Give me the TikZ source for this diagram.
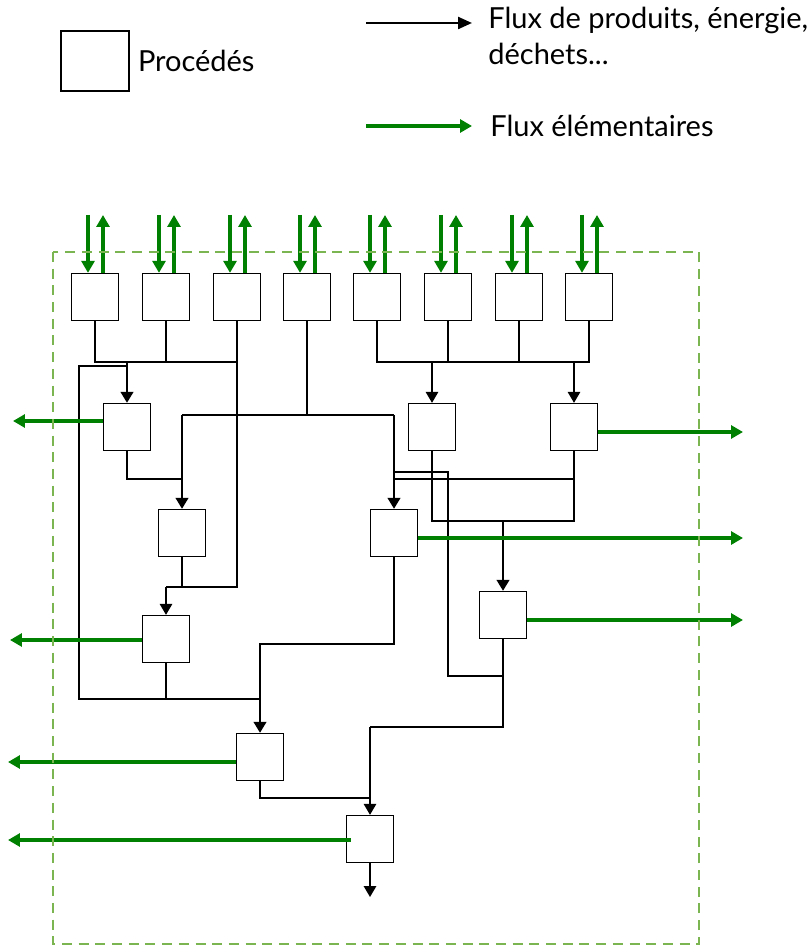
\documentclass[tikz,border=0pt]{standalone}
\usepackage{fontspec}
\setmainfont{Lato}
\usetikzlibrary{arrows.meta}
\definecolor{flowgreen}{RGB}{0,128,0}
\definecolor{limitgreen}{RGB}{122,181,82}

\begin{document}
\begin{tikzpicture}[x=0.02cm, y=-0.02cm, font=\fontsize{16.5}{20.5}\selectfont,
  >={Triangle[length=0.22cm, width=0.25cm]},
  proc/.style={draw, line width=0.75pt, minimum size=0.94cm, inner sep=0pt},
  flow/.style={line width=0.7pt},
  link/.style={line width=0.9pt, ->},
  main/.style={line width=1.4pt, ->},
  elem/.style={flowgreen, line width=2.3pt, -{Triangle[length=0.24cm, width=0.26cm]}}]
  \useasboundingbox (0,0) rectangle (811,945);
  % --- legend ---
  \node[proc, minimum width=1.36cm, minimum height=1.2cm] (legbox) at (95,61) {};
  \node[anchor=west, inner sep=0pt] (legproc) at ([xshift=0.16cm]legbox.east) {Procédés};
  \coordinate (legA) at (366,23);
  \coordinate (legB) at (472,23);
  \draw[line width=1.3pt, -{Triangle[length=0.28cm, width=0.24cm]}] (legA) -- (legB);
  \node[anchor=north west, inner sep=0pt, align=left] (legflux) at (488,7)
       {Flux de produits, énergie,\\déchets...};
  \coordinate (legC) at (366,126);
  \coordinate (legD) at (472,126);
  \draw[elem] (legC) -- (legD);
  \node[anchor=west, inner sep=0pt] (legelem) at (490,126) {Flux élémentaires};
  % --- processes ---
  \foreach \i/\x in {1/95, 2/166, 3/237, 4/307, 5/377, 6/448, 7/519, 8/589} {
    \node[proc] (t\i) at (\x,297) {};
    \coordinate (in\i) at (\x-7,215);
    \coordinate (out\i) at (\x+8,215);
    \draw[elem] (in\i) -- (in\i |- t\i.north);
    \draw[elem] (out\i |- t\i.north) -- (out\i);
  }
  \node[proc] (pa) at (127,427) {};
  \node[proc] (pf) at (432,427) {};
  \node[proc] (pg) at (574,427) {};
  \node[proc] (pc) at (182,533) {};
  \node[proc] (pb) at (394,533) {};
  \node[proc] (ph) at (503,615) {};
  \node[proc] (pd) at (166,639) {};
  \node[proc] (pe) at (260,757) {};
  \node[proc] (pj) at (370,839) {};
  % --- junctions ---
  \coordinate (ja) at (127,362);
  \coordinate (jl) at (79,366);
  \coordinate (jt) at (307,415);
  \coordinate (jc) at (182,479);
  \coordinate (jb) at (394,472);
  \coordinate (jg) at (394,479);
  \coordinate (jd) at (166,587);
  \coordinate (jm) at (260,644);
  \coordinate (je) at (260,699);
  \coordinate (jf) at (432,362);
  \coordinate (jq) at (574,362);
  \coordinate (jh) at (503,521);
  \coordinate (jr) at (448,472);
  \coordinate (jk) at (503,676);
  \coordinate (jj) at (370,727);
  \coordinate (jn) at (370,798);
  \coordinate (jo) at (370,897);
  % --- product flows ---
  \draw[flow] (t1.south) |- (t3.south |- ja);
  \draw[flow] (t2.south) -- (t2.south |- ja);
  \draw[flow] (t3.south) |- (jd);
  \draw[main] (ja) -- (pa.north);
  \draw[flow] (pa.north |- jl) -- (jl) |- (je);
  \draw[flow] (t4.south) -- (jt);
  \draw[flow] (pc.north |- jt) -- (pb.north |- jt);
  \draw[flow] (pc.north |- jt) -- (jc);
  \draw[flow] (pa.south) |- (jc);
  \draw[main] (jc) -- (pc.north);
  \draw[flow] (pb.north |- jt) -- (jb);
  \draw[main] (jb) -- (pb.north);
  \draw[flow] (pc.south) -- (pc.south |- jd);
  \draw[link] (jd) -- (pd.north);
  \draw[flow] (pd.south) -- (pd.south |- je);
  \draw[flow] (pb.south) |- (jm) -- (je);
  \draw[main] (je) -- (pe.north);
  \draw[flow] (t5.south) |- (jf) -- (jq) -| (t8.south);
  \draw[flow] (t6.south) -- (t6.south |- jf);
  \draw[flow] (t7.south) -- (t7.south |- jf);
  \draw[link] (jf) -- (pf.north);
  \draw[link] (jq) -- (pg.north);
  \draw[flow] (pf.south) |- (jh);
  \draw[flow] (pg.south) |- (jh);
  \draw[flow] (pg.south |- jg) -- (jg);
  \draw[main] (jh) -- (ph.north);
  \draw[flow] (ph.south) -- (jk) -| (jr) -- (jb);
  \draw[flow] (jk) |- (jj);
  \draw[link] (jj) -- (pj.north);
  \draw[flow] (pe.south) |- (jn);
  \draw[link] (pj.south) -- (jo);
  % --- elementary flows ---
  \coordinate (wa) at (13,421);
  \coordinate (wd) at (10,640);
  \coordinate (we) at (8,762);
  \coordinate (wj) at (8,840);
  \coordinate (eg) at (743,432);
  \coordinate (eb) at (743,538);
  \coordinate (eh) at (743,620);
  \draw[elem] (pa.west |- wa) -- (wa);
  \draw[elem] (pd.west |- wd) -- (wd);
  \draw[elem] (pe.west |- we) -- (we);
  \draw[elem] ([xshift=0.1cm]pj.west |- wj) -- (wj);
  \draw[elem] (pg.east |- eg) -- (eg);
  \draw[elem] (pb.east |- eb) -- (eb);
  \draw[elem] (ph.east |- eh) -- (eh);
  % --- system boundary ---
  \draw[limitgreen, line width=1.1pt, dash pattern=on 5.7pt off 3.8pt] (53,252) rectangle (699,944);
\end{tikzpicture}
\end{document}
